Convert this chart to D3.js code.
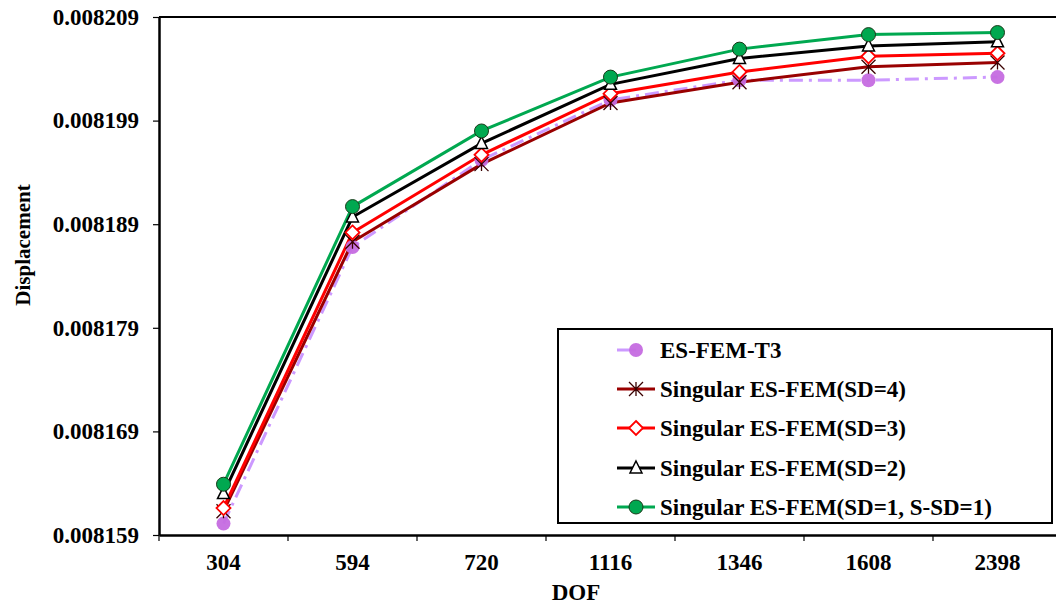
<!DOCTYPE html>
<html><head><meta charset="utf-8">
<script src="https://cdn.jsdelivr.net/npm/d3@7"></script>
<style>body{margin:0;background:#fff;overflow:hidden}svg{display:block}</style>
</head><body>
<svg id="c" width="1056" height="605"></svg>
<script>
const categories = ["304","594","720","1116","1346","1608","2398"];
const yTicks = [0.008159,0.008169,0.008179,0.008189,0.008199,0.008209];
const esfemT3 = [0.0081601,0.0081868,0.0081952,0.0082010,0.0082029,0.0082029,0.0082032];
const sd4 = [0.0081613,0.0081873,0.0081948,0.0082007,0.0082027,0.0082042,0.0082046];
const sd3 = [0.0081616,0.0081882,0.0081957,0.0082016,0.0082037,0.0082052,0.0082055];
const sd2 = [0.0081630,0.0081897,0.0081968,0.0082025,0.0082050,0.0082062,0.0082066];
const sd1 = [0.0081639,0.0081907,0.0081980,0.0082032,0.0082059,0.0082073,0.0082075];
const seriesNames = ["ES-FEM-T3","Singular ES-FEM(SD=4)","Singular ES-FEM(SD=3)","Singular ES-FEM(SD=2)","Singular ES-FEM(SD=1, S-SD=1)"];

const series = [
  {name:seriesNames[0], vals:esfemT3, color:"#cc99ff", mcolor:"#c56be0", marker:"dot", dash:"14,6,3,6"},
  {name:seriesNames[1], vals:sd4, color:"#990000", marker:"star"},
  {name:seriesNames[2], vals:sd3, color:"#ff0000", marker:"diamond"},
  {name:seriesNames[3], vals:sd2, color:"#000000", marker:"tri"},
  {name:seriesNames[4], vals:sd1, color:"#00a850", marker:"circle"}
];

const svg = d3.select("#c");
const L=159, R=1062, T=17, B=535;
const x = d3.scaleBand().domain(categories).range([L,R]);
const y = d3.scaleLinear().domain([0.008159,0.008209]).range([B,T]);
const font = "Times New Roman, Liberation Serif, serif";

svg.append("line").attr("x1",L).attr("x2",R).attr("y1",T).attr("y2",T).attr("stroke","#000").attr("stroke-width",2);
svg.append("line").attr("x1",R).attr("x2",R).attr("y1",T).attr("y2",B).attr("stroke","#000").attr("stroke-width",2);

const yAxis = svg.append("g").attr("transform",`translate(${L},0)`)
  .call(d3.axisLeft(y).tickValues(yTicks).tickFormat(d3.format(".6f")).tickSize(6).tickSizeOuter(0));
yAxis.attr("font-family",font).attr("font-size",23);
yAxis.select(".domain").attr("stroke-width",2.5);
yAxis.selectAll(".tick line").attr("stroke-width",1.2);
yAxis.selectAll("text").style("font-family",font).style("font-weight","bold").style("font-size","23px").attr("x",-20).attr("fill","#000");

const xAxis = svg.append("g").attr("transform",`translate(0,${B})`)
  .call(d3.axisBottom(x).tickSize(0).tickSizeOuter(0));
xAxis.attr("font-family",font).attr("font-size",23);
xAxis.select(".domain").attr("stroke-width",2.5);
xAxis.selectAll("text").style("font-family",font).style("font-weight","bold").style("font-size","23px").attr("y",19).attr("fill","#000");
const bounds = categories.map(c=>x(c)).concat([R]);
svg.append("g").selectAll("line").data(bounds).join("line")
  .attr("x1",d=>d).attr("x2",d=>d).attr("y1",B).attr("y2",B+6).attr("stroke","#000").attr("stroke-width",1.2);

svg.append("text").attr("x",576).attr("y",600).attr("text-anchor","middle")
  .style("font-family",font).style("font-weight","bold").style("font-size","23px").text("DOF");
svg.append("text").attr("transform","translate(30,245) rotate(-90)").attr("text-anchor","middle")
  .style("font-family",font).style("font-weight","bold").style("font-size","21px").text("Displacement");

const cx = c => x(c)+x.bandwidth()/2;
const line = d3.line().x((d,i)=>cx(categories[i])).y(d=>y(d));

function drawMarker(g, s, px, py){
  if(s.marker==="dot"){
    g.append("circle").attr("cx",px).attr("cy",py).attr("r",7).attr("fill",s.mcolor).attr("opacity",0.95);
  } else if(s.marker==="circle"){
    g.append("circle").attr("cx",px).attr("cy",py).attr("r",7).attr("fill",s.color).attr("stroke","#1a3a1a").attr("stroke-width",1);
  } else if(s.marker==="tri"){
    g.append("path").attr("d",`M${px},${py-7}L${px+6},${py+5}L${px-6},${py+5}Z`).attr("fill","#fff").attr("stroke","#000").attr("stroke-width",1.5);
  } else if(s.marker==="diamond"){
    g.append("path").attr("d",`M${px},${py-7}L${px+7},${py}L${px},${py+7}L${px-7},${py}Z`).attr("fill","#fff").attr("stroke",s.color).attr("stroke-width",1.8);
  } else if(s.marker==="star"){
    const r=7;
    g.append("path").attr("d",`M${px-r},${py-r}L${px+r},${py+r}M${px+r},${py-r}L${px-r},${py+r}M${px},${py-r}L${px},${py+r}`)
      .attr("stroke","#3a0000").attr("stroke-width",1.3).attr("fill","none");
  }
}

const plot = svg.append("g");
series.forEach(s=>{
  plot.append("path").datum(s.vals).attr("d",line).attr("fill","none").attr("stroke",s.color)
    .attr("stroke-width",3).attr("stroke-dasharray",s.dash||null);
});
series.forEach(s=>{
  const g = plot.append("g");
  s.vals.forEach((v,i)=>drawMarker(g,s,cx(categories[i]),y(v)));
});

const lg = svg.append("g");
lg.append("rect").attr("x",558).attr("y",329).attr("width",494).attr("height",194).attr("fill","#fff").attr("stroke","#000").attr("stroke-width",2);
const rowY = [350,389,428,468,507];
series.forEach((s,i)=>{
  const yy = rowY[i];
  const x1 = 617, x2 = s.marker==="dot"?636:655;
  lg.append("line").attr("x1",x1).attr("x2",x2).attr("y1",yy).attr("y2",yy).attr("stroke",s.color).attr("stroke-width",3);
  drawMarker(lg,s,636,yy);
  lg.append("text").attr("x",660).attr("y",yy+8).style("font-family",font).style("font-weight","bold").style("font-size","23px").text(s.name);
});
</script>
</body></html>
